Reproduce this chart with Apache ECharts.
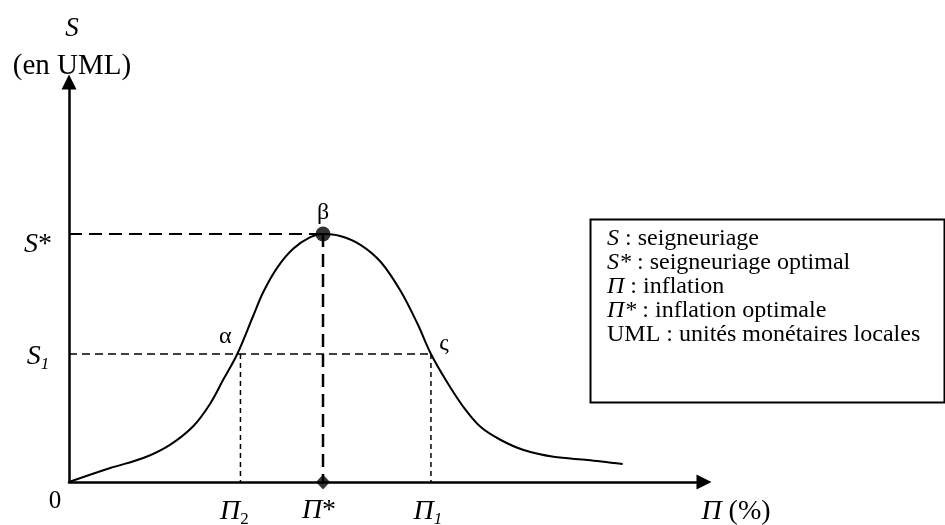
<!DOCTYPE html>
<html><head><meta charset="utf-8">
<script src="https://cdn.jsdelivr.net/npm/echarts@6/dist/echarts.min.js"></script>
<style>html,body{margin:0;padding:0;background:#fff}#c{width:945px;height:525px}</style>
</head><body><div id="c"></div>
<script>
// Seigneuriage curve (S in UML vs inflation Π in %)
const curveX = [0, 6.5, 11.7, 15.9, 19.6, 22.2, 24.3, 26.5, 29.0, 30.6, 32.8, 35.3, 38.0, 40.0, 42.7, 45.9, 49.1, 52.2, 54.9, 57.0, 59.6, 62.1, 64.8, 68.0, 71.6, 76.3, 81.7, 87.2];
const curveY = [0, 3.5, 6.0, 9.3, 14.0, 19.5, 25.6, 32.0, 41.5, 47.5, 53.6, 58.3, 61.2, 62.0, 61.5, 59.3, 55.0, 47.8, 39.5, 32.0, 24.8, 18.8, 13.8, 10.5, 8.0, 6.3, 5.5, 4.5];
const sStar = 62, s1 = 32;
const piStar = 40, pi1 = 57, pi2 = 27;
const legendLines = [
  '{i|S} : seigneuriage',
  '{i|S*} : seigneuriage optimal',
  '{i|Π} : inflation',
  '{i|Π*} : inflation optimale',
  'UML : unités monétaires locales'
];

const FONT = 'Liberation Serif';
const black = '#000';
const chart = echarts.init(document.getElementById('c'));

const rich = {
  i: {fontFamily: FONT, fontStyle: 'italic', fontSize: 28, fill: black, lineHeight: 32},
  r: {fontFamily: FONT, fontSize: 28, fill: black, lineHeight: 32},
  z: {fontFamily: FONT, fontSize: 25, fill: black, lineHeight: 30},
  g: {fontFamily: FONT, fontSize: 24, fill: black, lineHeight: 30},
  sub: {fontFamily: FONT, fontSize: 17, fill: black, lineHeight: 17, padding: [19, 0, 0, 0], verticalAlign: 'bottom'},
  subi: {fontFamily: FONT, fontStyle: 'italic', fontSize: 17, fill: black, lineHeight: 17, padding: [19, 0, 0, 0], verticalAlign: 'bottom'},
  t: {fontFamily: FONT, fontSize: 29, fill: black, lineHeight: 37},
  ti: {fontFamily: FONT, fontStyle: 'italic', fontSize: 27, fill: black, lineHeight: 37}
};

const labels = [
  {value: [0, 0], text: '{z|0}', off: [-14, 19]},
  {value: [pi2, 0], text: '{i|Π}{sub|2}', off: [-6, 30]},
  {value: [piStar, 0], text: '{i|Π}{r|*}', off: [-4, 29]},
  {value: [pi1, 0], text: '{i|Π}{subi|1}', off: [-3, 30]},
  {value: [100, 0], text: '{i|Π}{r| (%)}', off: [32, 30]},
  {value: [0, sStar], text: '{i|S}{r|*}', off: [-31, 11]},
  {value: [0, s1], text: '{i|S}{subi|1}', off: [-31, 3]},
  {value: [26.5, s1], text: '{g|α}', off: [-12, -17]},
  {value: [piStar, sStar], text: '{g|β}', off: [0, -21]},
  {value: [pi1, s1], text: '{g|ς}', off: [13, -10]},
  {value: [0, 100], text: '{ti|S}', off: [3, -53]},
  {value: [0, 100], text: '{t|(en UML)}', off: [3, -16]}
];

const axisCommon = {
  type: 'value', min: 0, max: 100,
  axisLine: {show: true, onZero: true, symbol: ['none', 'triangle'], symbolSize: [15, 15],
    lineStyle: {color: black, width: 2.5}},
  axisTick: {show: false}, axisLabel: {show: false}, splitLine: {show: false}
};

chart.setOption({
  animation: false,
  backgroundColor: '#fff',
  grid: {left: 69, right: 241, top: 82, bottom: 43, containLabel: false, outerBoundsMode: 'none'},
  xAxis: Object.assign({}, axisCommon),
  yAxis: Object.assign({}, axisCommon),
  graphic: [
    {type: 'rect', left: 588, top: 217, shape: {x: 0, y: 0, width: 354, height: 183},
      style: {fill: 'none', stroke: black, lineWidth: 2}},
    {type: 'text', x: 607, y: 227,
      style: {text: legendLines.join('\n'), fontFamily: FONT, fontSize: 24, lineHeight: 24, fill: black,
        rich: {i: {fontFamily: FONT, fontStyle: 'italic', fontSize: 24, lineHeight: 24}}}}
  ],
  series: [
    {type: 'line', data: curveX.map((x, k) => [x, curveY[k]]), smooth: 0.35, symbol: 'none',
      lineStyle: {color: black, width: 2}, silent: true, z: 3},
    {type: 'line', data: [[0, sStar], [piStar, sStar]], symbol: 'none',
      lineStyle: {color: black, width: 2.2, type: [13, 7]}, silent: true},
    {type: 'line', data: [[piStar, sStar], [piStar, 0]], symbol: 'none',
      lineStyle: {color: black, width: 2.5, type: [13, 7]}, silent: true},
    {type: 'line', data: [[0, s1], [pi1, s1]], symbol: 'none',
      lineStyle: {color: black, width: 1.5, type: [8, 5]}, silent: true},
    {type: 'line', data: [[pi2, s1], [pi2, 0]], symbol: 'none',
      lineStyle: {color: black, width: 1.5, type: [5, 4]}, silent: true},
    {type: 'line', data: [[pi1, s1], [pi1, 0]], symbol: 'none',
      lineStyle: {color: black, width: 1.5, type: [5, 4]}, silent: true},
    {type: 'scatter', data: [[piStar, sStar]], symbol: 'circle', symbolSize: 15,
      itemStyle: {color: black}, silent: true, z: 5},
    {type: 'scatter', data: [[piStar, 0]], symbol: 'diamond', symbolSize: [14, 15],
      itemStyle: {color: black}, silent: true, z: 5},
    {type: 'custom', silent: true, z: 6, clip: false,
      data: labels.map(l => l.value),
      renderItem: function (params, api) {
        const l = labels[params.dataIndex];
        const p = api.coord([api.value(0), api.value(1)]);
        return {type: 'text', x: p[0] + l.off[0], y: p[1] + l.off[1],
          style: {text: l.text, rich: rich, align: 'center', verticalAlign: 'middle', fill: black}};
      }}
  ]
});
</script></body></html>
